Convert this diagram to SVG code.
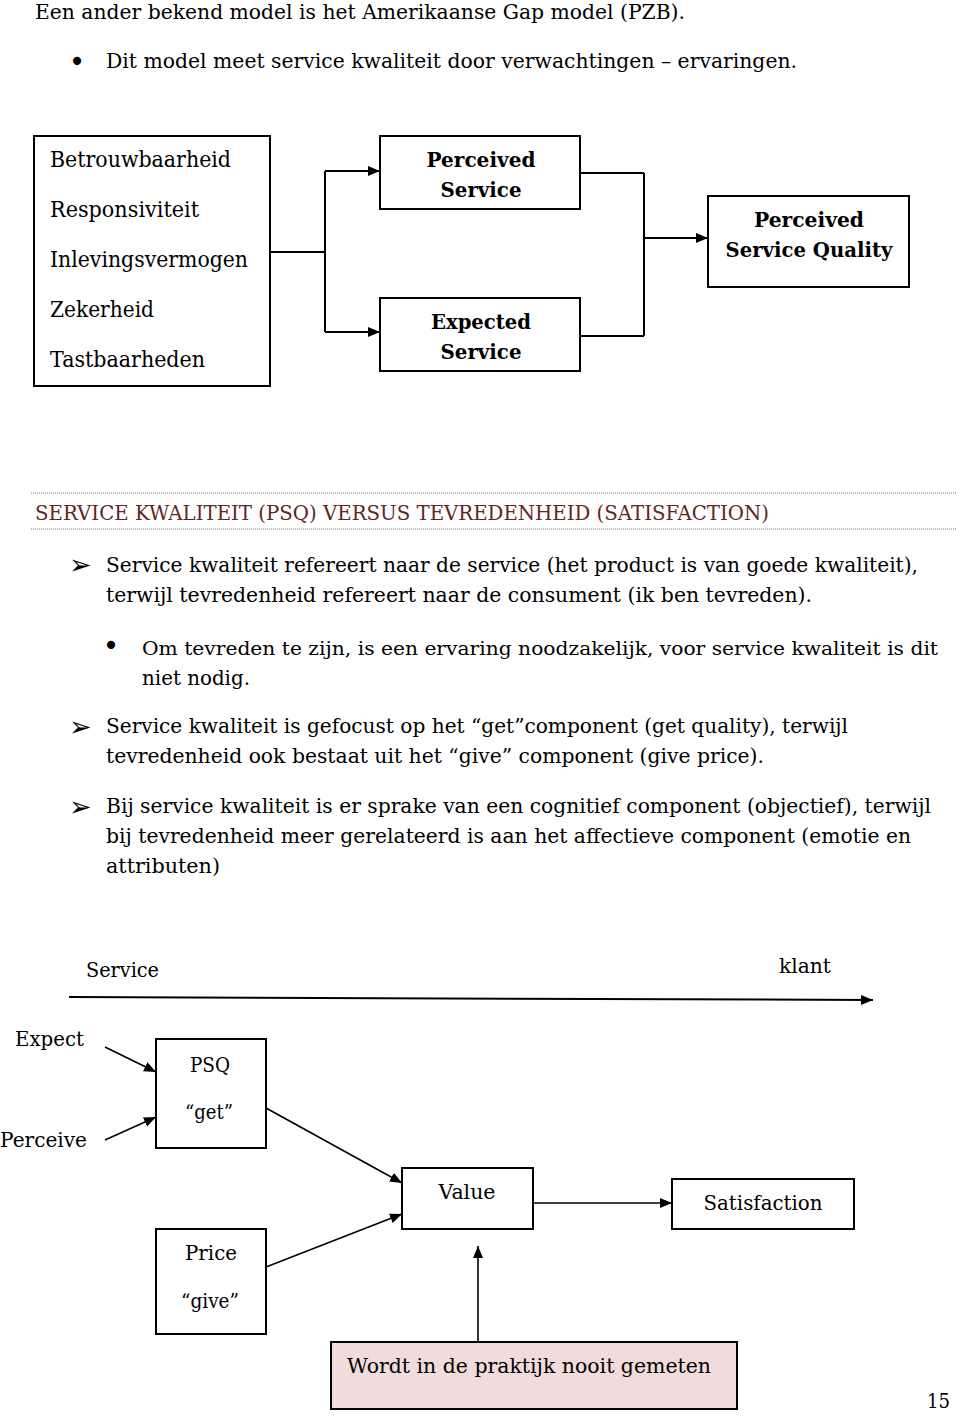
<svg xmlns="http://www.w3.org/2000/svg" width="960" height="1416" viewBox="0 0 960 1416">
<defs>
<style>
text{font-family:"DejaVu Serif","Liberation Serif",serif;font-size:21px;fill:#000}
.b{font-weight:bold}
.m{text-anchor:middle}
.h{fill:#632423}
.lg{font-size:22px}
.sm{font-size:19px}
.sym{font-family:"DejaVu Sans","Noto Sans",sans-serif}
.dotb{font-size:28px}
.arr{font-size:27px}
.box{fill:#fff;stroke:#000;stroke-width:2}
.con{fill:none;stroke:#000;stroke-width:2}
.con2{fill:none;stroke:#000;stroke-width:1.6}
.dot{stroke:#777;stroke-width:1;stroke-dasharray:1 1}
</style>
<marker id="ah" markerUnits="userSpaceOnUse" markerWidth="13" markerHeight="11" refX="12" refY="5" orient="auto">
<path d="M0,0 L12,5 L0,10 z" fill="#000"/>
</marker>
</defs>
<rect width="960" height="1416" fill="#fff"/>

<g id="intro">
<text x="35" y="19" textLength="650" lengthAdjust="spacingAndGlyphs">Een ander bekend model is het Amerikaanse Gap model (PZB).</text>
<text x="77" y="71" class="m sym dotb">•</text>
<text x="106" y="68" textLength="691" lengthAdjust="spacingAndGlyphs">Dit model meet service kwaliteit door verwachtingen – ervaringen.</text>
</g>

<g id="dimensions">
<rect class="box" x="34" y="136" width="236" height="250"/>
<text class="lg" x="50" y="167" textLength="181" lengthAdjust="spacingAndGlyphs">Betrouwbaarheid</text>
<text class="lg" x="50" y="217" textLength="149" lengthAdjust="spacingAndGlyphs">Responsiviteit</text>
<text class="lg" x="50" y="267" textLength="198" lengthAdjust="spacingAndGlyphs">Inlevingsvermogen</text>
<text class="lg" x="50" y="317" textLength="104" lengthAdjust="spacingAndGlyphs">Zekerheid</text>
<text class="lg" x="50" y="367" textLength="155" lengthAdjust="spacingAndGlyphs">Tastbaarheden</text>
</g>
<g id="perceived-service">
<rect class="box" x="380" y="136" width="200" height="73"/>
<text class="b m" x="481" y="167" textLength="109" lengthAdjust="spacingAndGlyphs">Perceived</text>
<text class="b m" x="481" y="197" textLength="81" lengthAdjust="spacingAndGlyphs">Service</text>
</g>
<g id="expected-service">
<rect class="box" x="380" y="298" width="200" height="73"/>
<text class="b m" x="481" y="329" textLength="100" lengthAdjust="spacingAndGlyphs">Expected</text>
<text class="b m" x="481" y="359" textLength="81" lengthAdjust="spacingAndGlyphs">Service</text>
</g>
<g id="perceived-service-quality">
<rect class="box" x="708" y="196" width="201" height="91"/>
<text class="b m" x="809" y="227" textLength="110" lengthAdjust="spacingAndGlyphs">Perceived</text>
<text class="b m" x="809" y="257" textLength="167" lengthAdjust="spacingAndGlyphs">Service Quality</text>
</g>

<g id="heading">
<line class="dot" x1="31" y1="493" x2="956" y2="493"/>
<line class="dot" x1="31" y1="529" x2="956" y2="529"/>
<text class="h" x="35" y="520" textLength="734" lengthAdjust="spacingAndGlyphs">SERVICE KWALITEIT (PSQ) VERSUS TEVREDENHEID (SATISFACTION)</text>
</g>

<g id="bullets">
<text class="sym arr" x="69" y="574">➢</text>
<text x="106" y="572" textLength="812" lengthAdjust="spacingAndGlyphs">Service kwaliteit refereert naar de service (het product is van goede kwaliteit),</text>
<text x="106" y="602" textLength="706" lengthAdjust="spacingAndGlyphs">terwijl tevredenheid refereert naar de consument (ik ben tevreden).</text>
<text class="m sym dotb" x="111" y="655">•</text>
<text class="sm" x="142" y="655" textLength="796" lengthAdjust="spacingAndGlyphs">Om tevreden te zijn, is een ervaring noodzakelijk, voor service kwaliteit is dit</text>
<text x="142" y="685" textLength="108" lengthAdjust="spacingAndGlyphs">niet nodig.</text>
<text class="sym arr" x="69" y="736">➢</text>
<text x="106" y="733" textLength="742" lengthAdjust="spacingAndGlyphs">Service kwaliteit is gefocust op het “get”component (get quality), terwijl</text>
<text x="106" y="763" textLength="658" lengthAdjust="spacingAndGlyphs">tevredenheid ook bestaat uit het “give” component (give price).</text>
<text class="sym arr" x="69" y="816">➢</text>
<text x="106" y="813" textLength="825" lengthAdjust="spacingAndGlyphs">Bij service kwaliteit is er sprake van een cognitief component (objectief), terwijl</text>
<text x="106" y="843" textLength="805" lengthAdjust="spacingAndGlyphs">bij tevredenheid meer gerelateerd is aan het affectieve component (emotie en</text>
<text x="106" y="873" textLength="114" lengthAdjust="spacingAndGlyphs">attributen)</text>
</g>

<g id="axis-labels">
<text x="86" y="977" textLength="73" lengthAdjust="spacingAndGlyphs">Service</text>
<text x="779" y="973" textLength="52" lengthAdjust="spacingAndGlyphs">klant</text>
<text x="15" y="1046" textLength="69" lengthAdjust="spacingAndGlyphs">Expect</text>
<text x="0" y="1147" textLength="87" lengthAdjust="spacingAndGlyphs">Perceive</text>
</g>
<g id="psq">
<rect class="box" x="156" y="1039" width="110" height="109"/>
<text class="m" x="210" y="1072" textLength="40" lengthAdjust="spacingAndGlyphs">PSQ</text>
<text class="m" x="209" y="1119" textLength="48" lengthAdjust="spacingAndGlyphs">“get”</text>
</g>
<g id="price">
<rect class="box" x="156" y="1229" width="110" height="105"/>
<text class="m" x="211" y="1260" textLength="52" lengthAdjust="spacingAndGlyphs">Price</text>
<text class="m" x="210" y="1308" textLength="58" lengthAdjust="spacingAndGlyphs">“give”</text>
</g>
<g id="value">
<rect class="box" x="402" y="1168" width="131" height="61"/>
<text class="m" x="467" y="1199" textLength="57" lengthAdjust="spacingAndGlyphs">Value</text>
</g>
<g id="satisfaction">
<rect class="box" x="672" y="1179" width="182" height="50"/>
<text class="m" x="763" y="1210" textLength="119" lengthAdjust="spacingAndGlyphs">Satisfaction</text>
</g>
<g id="note">
<rect class="box" x="331" y="1342" width="406" height="67" style="fill:#f2dcdb"/>
<text x="347" y="1373" textLength="364" lengthAdjust="spacingAndGlyphs">Wordt in de praktijk nooit gemeten</text>
</g>
<g id="page-number">
<text x="927" y="1408" textLength="23" lengthAdjust="spacingAndGlyphs">15</text>
</g>

<g id="connectors">
<path class="con" d="M270,252 H325 M325,171 V332 M580,173 H644 M580,336 H644 M644,173 V336"/>
<path class="con" d="M325,171 H380" marker-end="url(#ah)"/>
<path class="con" d="M325,332 H380" marker-end="url(#ah)"/>
<path class="con" d="M644,238 H708" marker-end="url(#ah)"/>
<path class="con" d="M69,997 L873,1000" marker-end="url(#ah)"/>
<path class="con2" d="M105,1047 L156,1072" marker-end="url(#ah)"/>
<path class="con2" d="M105,1140 L156,1117" marker-end="url(#ah)"/>
<path class="con2" d="M266,1108 L402,1183" marker-end="url(#ah)"/>
<path class="con2" d="M266,1267 L402,1214" marker-end="url(#ah)"/>
<path class="con2" d="M533,1203 H672" marker-end="url(#ah)"/>
<path class="con2" d="M478,1342 V1246" marker-end="url(#ah)"/>
</g>
</svg>
